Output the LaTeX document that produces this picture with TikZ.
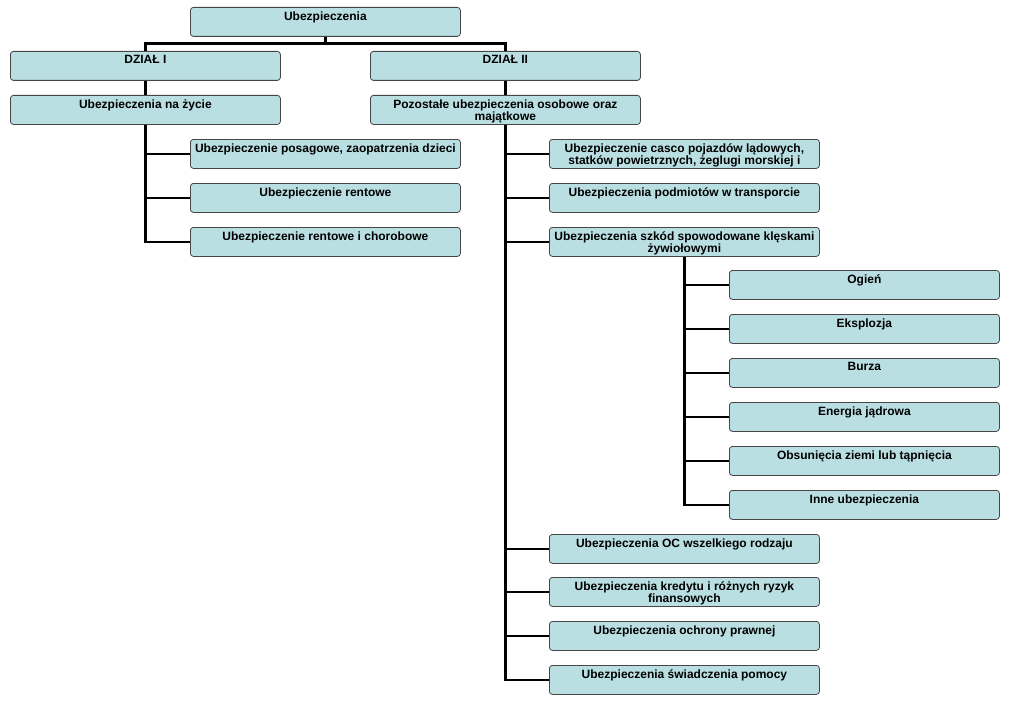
\documentclass[tikz,border=0pt]{standalone}
\usepackage{fontspec}
\setmainfont{Liberation Sans}
\definecolor{boxfill}{RGB}{186,223,227}
\definecolor{boxline}{RGB}{70,70,70}
\begin{document}
\begin{tikzpicture}[x=1pt,y=1pt,
  box/.style={draw=boxline, line width=0.8pt, fill=boxfill, rounded corners=3pt,
    anchor=north west, inner xsep=2pt, inner ysep=1.5pt, minimum width=270pt,
    font=\fontsize{12}{12.5}\selectfont\bfseries},
  conn/.style={line width=2.6pt, black}]
\newcommand{\bx}[1]{\parbox[t][26pt][t]{266pt}{\centering\vspace{2.5pt}#1}}
\useasboundingbox (0,0) rectangle (1010,-701);
% level 0-2
\node[box] (top) at (190,-7) {\bx{Ubezpieczenia}};
\node[box] (d1) at (10,-51) {\bx{DZIAŁ I}};
\node[box] (d2) at (370,-51) {\bx{DZIAŁ II}};
\node[box] (zy) at (10,-95) {\bx{Ubezpieczenia na życie}};
\node[box] (po) at (370,-95) {\bx{Pozostałe ubezpieczenia osobowe oraz majątkowe}};
% left children
\node[box] (l1) at (190,-139) {\bx{Ubezpieczenie posagowe, zaopatrzenia dzieci}};
\node[box] (l2) at (190,-183) {\bx{Ubezpieczenie rentowe}};
\node[box] (l3) at (190,-227) {\bx{Ubezpieczenie rentowe i chorobowe}};
% right children
\node[box] (r1) at (549,-139) {\bx{Ubezpieczenie casco pojazdów lądowych,\\statków powietrznych, żeglugi morskiej i}};
\node[box] (r2) at (549,-183) {\bx{Ubezpieczenia podmiotów w transporcie}};
\node[box] (r3) at (549,-227) {\bx{Ubezpieczenia szkód spowodowane klęskami żywiołowymi}};
\node[box] (r4) at (549,-534) {\bx{Ubezpieczenia OC wszelkiego rodzaju}};
\node[box] (r5) at (549,-577) {\bx{Ubezpieczenia kredytu i różnych ryzyk finansowych}};
\node[box] (r6) at (549,-621) {\bx{Ubezpieczenia ochrony prawnej}};
\node[box] (r7) at (549,-665) {\bx{Ubezpieczenia świadczenia pomocy}};
% grandchildren
\node[box] (g1) at (729,-270) {\bx{Ogień}};
\node[box] (g2) at (729,-314) {\bx{Eksplozja}};
\node[box] (g3) at (729,-358) {\bx{Burza}};
\node[box] (g4) at (729,-402) {\bx{Energia jądrowa}};
\node[box] (g5) at (729,-446) {\bx{Obsunięcia ziemi lub tąpnięcia}};
\node[box] (g6) at (729,-490) {\bx{Inne ubezpieczenia}};
% connectors
\coordinate (tj) at ([yshift=-7pt]top.south);
\draw[conn] (top.south) -- (tj) -| (d1.north);
\draw[conn] (tj) -| (d2.north);
\draw[conn] (d1.south) -- (zy.north);
\draw[conn] (d2.south) -- (po.north);
\foreach \c in {l1,l2,l3} \draw[conn] (zy.south) |- (\c.west);
\foreach \c in {r1,r2,r3,r4,r5,r6,r7} \draw[conn] (po.south) |- (\c.west);
\foreach \c in {g1,g2,g3,g4,g5,g6} \draw[conn] (r3.south) |- (\c.west);
\end{tikzpicture}
\end{document}
